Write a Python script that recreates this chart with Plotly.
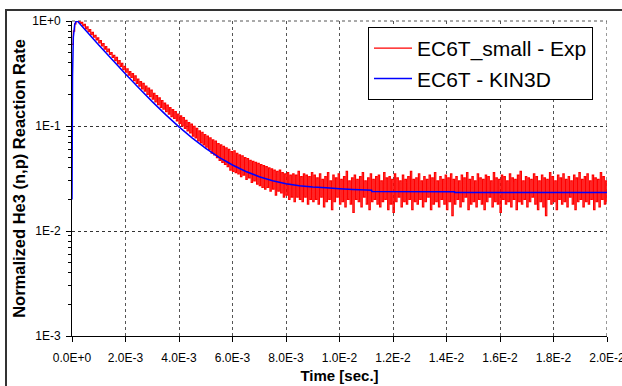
import plotly.graph_objects as go

# ---- data ----
red_name = "EC6T_small - Exp"
blue_name = "EC6T - KIN3D"

red_dt = 5e-5  # sampling step of the measured series [s]
red_values = [
    0.60, 0.80, 0.94, 1.00, 0.99, 1.00, 0.95, 0.97, 0.90, 0.93,
    0.84, 0.88, 0.79, 0.83, 0.74, 0.78, 0.70, 0.73, 0.66, 0.69,
    0.62, 0.65, 0.58, 0.61, 0.54, 0.57, 0.51, 0.54, 0.48, 0.50,
    0.45, 0.47, 0.42, 0.45, 0.39, 0.42, 0.37, 0.395, 0.345, 0.37,
    0.325, 0.35, 0.305, 0.33, 0.29, 0.315, 0.27, 0.30, 0.255, 0.28,
    0.24, 0.265, 0.225, 0.255, 0.215, 0.24, 0.20, 0.23, 0.19, 0.22,
    0.18, 0.205, 0.17, 0.195, 0.16, 0.185, 0.15, 0.175, 0.145, 0.165,
    0.137, 0.158, 0.13, 0.15, 0.123, 0.143, 0.118, 0.137, 0.112, 0.13,
    0.106, 0.125, 0.10, 0.12, 0.095, 0.113, 0.09, 0.108, 0.086, 0.104,
    0.08, 0.099, 0.077, 0.095, 0.072, 0.09, 0.069, 0.087, 0.066, 0.083,
    0.063, 0.08, 0.06, 0.077, 0.055, 0.074, 0.053, 0.072, 0.05, 0.068,
    0.047, 0.066, 0.045, 0.064, 0.043, 0.062, 0.041, 0.06, 0.038, 0.057,
    0.037, 0.058, 0.036, 0.055, 0.035, 0.053, 0.033, 0.052, 0.034, 0.05,
    0.031, 0.049, 0.032, 0.047, 0.029, 0.046, 0.030, 0.045, 0.028, 0.044,
    0.027, 0.043, 0.026, 0.042, 0.025, 0.041, 0.026, 0.040, 0.024, 0.039,
    0.025, 0.038, 0.022, 0.037, 0.024, 0.038, 0.023, 0.036, 0.021, 0.035,
    0.022, 0.036, 0.020, 0.034, 0.021, 0.035, 0.019, 0.034, 0.021, 0.037,
    0.020, 0.033, 0.019, 0.035, 0.021, 0.034, 0.018, 0.033, 0.020, 0.036, 0.019,
    0.034, 0.020, 0.032, 0.018, 0.035, 0.021, 0.031, 0.017, 0.033, 0.019,
    0.036, 0.020, 0.030, 0.016, 0.034, 0.019, 0.032, 0.021, 0.035, 0.018,
    0.031, 0.019, 0.033, 0.017, 0.037, 0.020, 0.030, 0.018, 0.032, 0.015,
    0.034, 0.020, 0.031, 0.019, 0.033, 0.017, 0.036, 0.021, 0.030, 0.018,
    0.032, 0.016, 0.035, 0.019, 0.031, 0.020, 0.033, 0.018, 0.034, 0.017,
    0.030, 0.019, 0.036, 0.020, 0.032, 0.016, 0.033, 0.018, 0.031, 0.015,
    0.035, 0.019, 0.032, 0.021, 0.030, 0.017, 0.034, 0.019, 0.031, 0.018,
    0.033, 0.020, 0.037, 0.016, 0.031, 0.019, 0.032, 0.018, 0.035, 0.020,
    0.030, 0.017, 0.033, 0.019, 0.031, 0.021, 0.034, 0.016, 0.032, 0.018,
    0.036, 0.019, 0.030, 0.017, 0.033, 0.020, 0.031, 0.018, 0.034, 0.016,
    0.032, 0.019, 0.035, 0.014, 0.031, 0.018, 0.033, 0.020, 0.030, 0.017,
    0.034, 0.019, 0.032, 0.021, 0.036, 0.016, 0.031, 0.018, 0.033, 0.019,
    0.030, 0.017, 0.035, 0.020, 0.032, 0.018, 0.031, 0.016, 0.034, 0.019,
    0.033, 0.021, 0.030, 0.017, 0.036, 0.019, 0.032, 0.018, 0.031, 0.015,
    0.034, 0.020, 0.033, 0.018, 0.030, 0.019, 0.035, 0.017, 0.032, 0.020,
    0.031, 0.016, 0.034, 0.019, 0.037, 0.018, 0.030, 0.020, 0.033, 0.017,
    0.032, 0.019, 0.031, 0.021, 0.035, 0.018, 0.033, 0.016, 0.030, 0.019,
    0.034, 0.017, 0.032, 0.014, 0.031, 0.020, 0.036, 0.018, 0.033, 0.019,
    0.030, 0.016, 0.034, 0.020, 0.032, 0.018, 0.035, 0.019, 0.031, 0.017,
    0.033, 0.021, 0.030, 0.018, 0.034, 0.016, 0.032, 0.019, 0.036, 0.020,
    0.031, 0.017, 0.033, 0.019, 0.035, 0.018, 0.030, 0.020, 0.034, 0.016,
    0.032, 0.019, 0.031, 0.017, 0.036, 0.020, 0.033, 0.018, 0.030, 0.019,
]
red_time = [k * red_dt for k in range(len(red_values))]

blue_time = [0, 2e-5, 5e-5, 1e-4, 1.5e-4, 2e-4, 3e-4, 5e-4, 7.5e-4, 1e-3,
             1.25e-3, 1.5e-3, 2e-3, 2.5e-3, 3e-3, 3.5e-3, 4e-3, 4.5e-3, 5e-3,
             5.5e-3, 6e-3, 6.5e-3, 7e-3, 7.5e-3, 8e-3, 8.5e-3, 9e-3, 9.5e-3,
             1e-2, 1.05e-2, 1.1e-2, 1.12e-2, 1.121e-2, 1.43e-2, 1.431e-2, 2e-2]
blue_values = [0.02, 0.3, 0.7, 0.92, 0.99, 1.0, 0.936, 0.821, 0.697, 0.592,
               0.504, 0.429, 0.313, 0.230, 0.1706, 0.1284, 0.0981, 0.0767, 0.0613,
               0.0503, 0.0425, 0.0369, 0.0329, 0.0301, 0.0282, 0.0270, 0.0263, 0.0258,
               0.0253, 0.0249, 0.0246, 0.0245, 0.0238, 0.0237, 0.0233, 0.0232]

x_tickvals = [0, 0.002, 0.004, 0.006, 0.008, 0.010, 0.012, 0.014, 0.016, 0.018, 0.020]
x_ticktext = ["0.0E+0", "2.0E-3", "4.0E-3", "6.0E-3", "8.0E-3", "1.0E-2",
              "1.2E-2", "1.4E-2", "1.6E-2", "1.8E-2", "2.0E-2"]
y_tickvals = [1e-3, 1e-2, 1e-1, 1]
y_ticktext = ["1E-3", "1E-2", "1E-1", "1E+0"]
y_minorvals = [m * d for d in (1e-3, 1e-2, 1e-1) for m in range(2, 10)]

FONT = "Liberation Sans, Arial, sans-serif"
GRID = "#555555"

fig = go.Figure()
fig.add_trace(go.Scatter(x=red_time, y=red_values, mode="lines", name=red_name,
                         line=dict(color="#FF0000", width=1.2, shape="hv", simplify=False)))
fig.add_trace(go.Scatter(x=blue_time, y=blue_values, mode="lines", name=blue_name,
                         line=dict(color="#0000FF", width=1.5, simplify=False)))

fig.update_layout(
    width=622, height=386,
    margin=dict(l=72, r=15, t=21, b=50),
    paper_bgcolor="white", plot_bgcolor="white",
    font=dict(family=FONT, color="black", size=12),
    showlegend=True,
    legend=dict(x=(368 - 72) / 535, y=0.981, xanchor="left", yanchor="top",
                bgcolor="white", bordercolor="black", borderwidth=1,
                itemwidth=38,
                font=dict(size=21, family=FONT)),
    shapes=[
        dict(type="rect", xref="paper", yref="paper",
             x0=(6 - 72) / 535, x1=1.5, y0=-1.0, y1=(336 - 10) / 315,
             line=dict(color="#333333", width=2), fillcolor="rgba(0,0,0,0)", layer="below"),
        # plot-area top and right borders (dotted, like the grid)
        dict(type="line", xref="paper", yref="paper", x0=0, x1=1, y0=1, y1=1,
             line=dict(color=GRID, width=1, dash="dot"), layer="below"),
        dict(type="line", xref="x", yref="paper", x0=x_tickvals[-1], x1=x_tickvals[-1], y0=0, y1=1,
             line=dict(color=GRID, width=1.2, dash="dot"), layer="below"),
    ],
)
fig.update_xaxes(
    range=[0, 0.0200001], tickmode="array", tickvals=x_tickvals, ticktext=x_ticktext,
    showline=True, linecolor="black", linewidth=1, mirror=False,
    ticks="outside", ticklen=5, tickcolor="black", tickfont=dict(size=12),
    ticklabelstandoff=6, ticklabeloverflow="allow",
    showgrid=True, gridcolor=GRID, griddash="dot", gridwidth=1,
    zeroline=False, automargin=False, layer="below traces",
    title=dict(text="<b>Time [sec.]</b>", font=dict(size=15), standoff=6),
)
fig.update_yaxes(
    type="log", range=[-3, 0.00002], tickmode="array", tickvals=y_tickvals, ticktext=y_ticktext,
    showline=True, linecolor="black", linewidth=1, mirror=False,
    ticks="outside", ticklen=5, tickcolor="black", tickfont=dict(size=12),
    ticklabelstandoff=3, ticklabeloverflow="allow",
    minor=dict(tickmode="array", tickvals=y_minorvals, ticks="outside", ticklen=3,
               tickcolor="black", showgrid=False),
    showgrid=True, gridcolor="#333333", griddash="dot", gridwidth=1,
    zeroline=False, automargin=False, layer="below traces",
    title=dict(text="<b>Normalized He3 (n,p) Reaction Rate</b>", font=dict(size=16.5), standoff=2),
)

fig.write_html("out.html")
